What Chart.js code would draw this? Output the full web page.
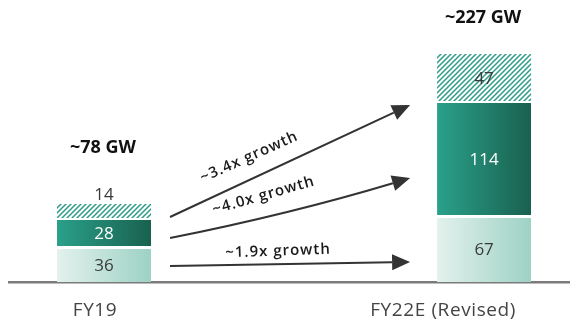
<!DOCTYPE html>
<html><head><meta charset="utf-8">
<script src="https://cdn.jsdelivr.net/npm/chart.js@4"></script>
<style>html,body{margin:0;padding:0;background:#fff}#wrap{width:570px;height:325px}</style>
</head><body><div id="wrap"><canvas id="c" width="570" height="325"></canvas></div>
<script>
// ---- data ----
const categories = ['FY19', 'FY22E (Revised)'];
const baseValues = [36, 67];
const midValues = [28, 114];
const hatchValues = [14, 47];
const totalLabels = ['~78 GW', '~227 GW'];
const growthLabels = ['~3.4x growth', '~4.0x growth', '~1.9x growth'];

const FONT = '"Open Sans", "DejaVu Sans", sans-serif';
const BAR_W = 94;

function hGrad(c0, c1) {
  return (ctx) => {
    const chart = ctx.chart;
    if (!chart.chartArea || ctx.type !== 'data') return c1;
    const x = chart.scales.x.getPixelForValue(ctx.dataIndex);
    const g = chart.ctx.createLinearGradient(x - BAR_W / 2, 0, x + BAR_W / 2, 0);
    g.addColorStop(0, c0); g.addColorStop(1, c1);
    return g;
  };
}
function hatchPattern() {
  const s = 5;
  const p = document.createElement('canvas');
  p.width = s; p.height = s;
  const c = p.getContext('2d');
  c.fillStyle = '#ffffff'; c.fillRect(0, 0, s, s);
  c.strokeStyle = '#2b9c85'; c.lineWidth = 1.5;
  c.beginPath();
  c.moveTo(-1, s + 1); c.lineTo(s + 1, -1);
  c.moveTo(-1, 1); c.lineTo(1, -1);
  c.moveTo(s - 1, s + 1); c.lineTo(s + 1, s - 1);
  c.stroke();
  return document.getElementById('c').getContext('2d').createPattern(p, 'repeat');
}

const toXY = arr => arr.map((v, i) => ({ x: i, y: v }));

const labelsPlugin = {
  id: 'labels',
  afterDatasetsDraw(chart) {
    const ctx = chart.ctx;
    const colors = ['#3a3a3a', '#ffffff', '#3a3a3a'];
    ctx.save();
    ctx.textAlign = 'center'; ctx.textBaseline = 'middle';
    ctx.font = '17px ' + FONT;
    chart.data.datasets.forEach((ds, di) => {
      const meta = chart.getDatasetMeta(di);
      meta.data.forEach((bar, i) => {
        const h = bar.base - bar.y;
        const val = ds.data[i].y;
        ctx.fillStyle = colors[di];
        if (h < 20) ctx.fillText(String(val), bar.x, bar.y - 9);
        else ctx.fillText(String(val), bar.x, (bar.y + bar.base) / 2 + 2);
      });
    });
    // totals
    ctx.font = 'bold 18px ' + FONT;
    ctx.fillStyle = '#111';
    const top = chart.getDatasetMeta(2);
    top.data.forEach((bar, i) => {
      const small = (bar.base - bar.y) < 20;
      ctx.fillText(totalLabels[i], bar.x - 1, bar.y - (small ? 56 : 36));
    });
    // category labels
    ctx.font = '19px ' + FONT;
    try { ctx.letterSpacing = '0.6px'; } catch (e) {}
    ctx.fillStyle = '#444';
    const offs = [-9, -41];
    categories.forEach((c, i) => {
      const x = chart.scales.x.getPixelForValue(i) + offs[i];
      ctx.fillText(c, x, 311);
    });
    ctx.restore();
  }
};

const arrowsPlugin = {
  id: 'arrows',
  afterDatasetsDraw(chart, args, opts) {
    const ctx = chart.ctx;
    const xs = chart.scales.x, ys = chart.scales.y;
    const x0 = xs.getPixelForValue(0) + BAR_W / 2 + 19;
    const x1 = xs.getPixelForValue(1) - BAR_W / 2 - 27;
    ctx.save();
    opts.items.forEach((a, k) => {
      const y0 = ys.getPixelForValue(a.from);
      const y1 = ys.getPixelForValue(a.to);
      const L = 18, W = 8;
      let dx, dy;
      const cx = (x0 + x1) / 2, cy = (y0 + y1) / 2 + (a.sag || 0);
      if (a.sag) { dx = x1 - cx; dy = y1 - cy; } else { dx = x1 - x0; dy = y1 - y0; }
      const len = Math.hypot(dx, dy); dx /= len; dy /= len;
      const bx = x1 - dx * L, by = y1 - dy * L;
      ctx.strokeStyle = '#333'; ctx.fillStyle = '#333'; ctx.lineWidth = 2;
      ctx.beginPath();
      ctx.moveTo(x0, y0);
      if (a.sag) ctx.quadraticCurveTo(cx, cy, bx, by); else ctx.lineTo(bx, by);
      ctx.stroke();
      ctx.beginPath();
      ctx.moveTo(x1, y1);
      ctx.lineTo(bx - dy * W, by + dx * W);
      ctx.lineTo(bx + dy * W, by - dx * W);
      ctx.closePath(); ctx.fill();
      const tx = x0 + (x1 - x0) * a.t;
      const ty = y0 + (y1 - y0) * a.t - a.off;
      ctx.save();
      ctx.translate(tx, ty);
      ctx.rotate(a.angle * Math.PI / 180);
      ctx.font = '600 15px ' + FONT;
      try { ctx.letterSpacing = '1px'; } catch (e) {}
      ctx.textAlign = 'center'; ctx.textBaseline = 'middle';
      ctx.fillStyle = '#1a1a1a';
      ctx.fillText(growthLabels[k], 0, 0);
      ctx.restore();
    });
    ctx.restore();
  }
};

const chart = new Chart(document.getElementById('c'), {
  type: 'bar',
  data: {
    datasets: [
      { label: 'base', data: toXY(baseValues), backgroundColor: hGrad('#e3f1ed', '#9dd2c4'),
        borderColor: '#ffffff', borderWidth: { top: 3, left: 0, right: 0, bottom: 0 }, borderSkipped: false },
      { label: 'mid', data: toXY(midValues), backgroundColor: hGrad('#2aa08a', '#19614f'),
        borderColor: '#ffffff', borderWidth: { top: 2, left: 0, right: 0, bottom: 0 }, borderSkipped: false },
      { label: 'upside', data: toXY(hatchValues), backgroundColor: hatchPattern(),
        borderWidth: 0 }
    ]
  },
  options: {
    responsive: false,
    devicePixelRatio: 1,
    animation: false,
    events: [],
    layout: { padding: { left: 9, right: 0, top: 0, bottom: 0 } },
    datasets: { bar: { barThickness: BAR_W, inflateAmount: 0 } },
    plugins: {
      legend: { display: false }, tooltip: { enabled: false },
      arrows: { items: [
        { from: 65, to: 177, t: 0.33, off: 23, angle: -24 },
        { from: 44, to: 104, t: 0.39, off: 19, angle: -16, sag: 6 },
        { from: 16, to: 20, t: 0.45, off: 13, angle: -2 }
      ] }
    },
    scales: {
      x: { type: 'linear', min: -0.25, max: 1.226, stacked: true, offset: false,
           grid: { display: false }, ticks: { display: false },
           border: { display: true, color: '#7b7b7b', width: 2.5 },
           afterFit: (s) => { s.height = 43; } },
      y: { min: 0, max: 282, stacked: true, display: false }
    }
  },
  plugins: [labelsPlugin, arrowsPlugin]
});
</script></body></html>
